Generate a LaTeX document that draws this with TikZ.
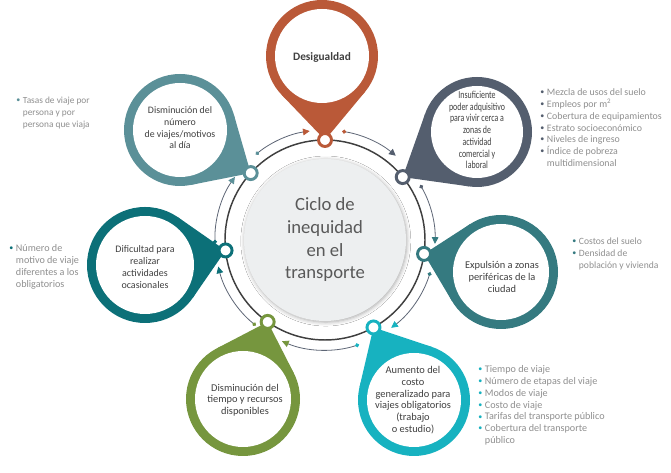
\documentclass[tikz,border=0pt]{standalone}
\usepackage{fontspec}
\setmainfont{Carlito}
\newfontfamily\narrowfont[FakeStretch=0.74]{Carlito}
\usetikzlibrary{arrows.meta,calc,shadows.blur}

\definecolor{cDesig}{HTML}{BA5938}
\definecolor{cInsuf}{HTML}{545E6E}
\definecolor{cExpul}{HTML}{357A80}
\definecolor{cAument}{HTML}{17B2C0}
\definecolor{cDismT}{HTML}{76963E}
\definecolor{cDific}{HTML}{0C7078}
\definecolor{cDismV}{HTML}{5B9098}
\definecolor{txtDark}{HTML}{404040}
\definecolor{txtMid}{HTML}{595959}
\definecolor{txtLight}{HTML}{8F8F8F}
\definecolor{lineSlate}{HTML}{5E6676}
\definecolor{ringGray}{HTML}{3F3F3F}
\definecolor{coreGray}{HTML}{EDEFF0}

\newcommand{\lb}[1]{\makebox[5pt][l]{\textcolor{#1}{\raisebox{0.2ex}{\fontsize{6}{6}\selectfont\textbullet}}}}
\newcommand{\lbin}{\hspace*{5pt}}

\begin{document}
\begin{tikzpicture}[x=0.75pt, y=0.75pt,
    pintext/.style={align=center, text=txtDark, font=\fontsize{7.8}{8.8}\selectfont, inner sep=0pt},
    listtext/.style={align=left, anchor=north west, text=txtLight, font=\fontsize{7.2}{8.85}\selectfont, inner sep=0pt},
    flowline/.style={draw=lineSlate, line width=0.6pt},
    ringline/.style={draw=ringGray, line width=1.1pt}]

    \path[use as bounding box, fill=white] (0,0) rectangle (671,473);
    \coordinate (O) at (325,233);

    % centre
    \node[circle, fill=coreGray, minimum size=121.5pt, inner sep=0pt,
          blur shadow={shadow xshift=0.6pt, shadow yshift=-0.8pt, shadow blur radius=3pt, shadow opacity=35},
          align=center, text=txtMid, font=\fontsize{14}{17}\selectfont] (ciclo) at (O)
          {Ciclo de\\inequidad\\en el\\transporte};
    \draw[ringline] (O) circle (100);

    % flow arrows around the ring
    \foreach \a/\b/\sc/\tc in {81/50/cDesig/cInsuf, 30/-2/cInsuf/cExpul, -17/-53/cExpul/cAument,
                               -72/-113/cAument/cDismT, -129/-166/cDismT/cDific,
                               -178/-215/cDific/cDismV, -231/-262/cDismV/cDesig}{
        \coordinate (from\a) at ($(O)+(\a:110)$);
        \draw[flowline, {Circle[color=\sc, length=3pt]}-{Triangle[color=\tc, length=5pt, width=5pt]}]
            (from\a) arc[start angle=\a, end angle=\b, radius=110];
    }

    % pins
    \foreach \nm/\col/\ang/\cx/\cy/\rr in {desig/cDesig/90/322/417/56, insuf/cInsuf/39/477/341/55,
                                          expul/cExpul/-8/501/201/57, aument/cAument/-61/414/73/56,
                                          dismt/cDismT/-125/243/74/57, dific/cDific/186/145/208/58,
                                          dismv/cDismV/138/180/343/56}{
        \pgfmathsetmacro{\tx}{325+100*cos(\ang)}
        \pgfmathsetmacro{\ty}{233+100*sin(\ang)}
        \pgfmathsetmacro{\dd}{veclen(\tx-\cx,\ty-\cy)}
        \pgfmathsetmacro{\ph}{atan2(\ty-\cy,\tx-\cx)}
        \pgfmathsetmacro{\al}{acos(\rr/\dd)}
        \coordinate (\nm-c) at (\cx,\cy);
        \coordinate (\nm-tip) at (\tx,\ty);
        \fill[\col] (\nm-c) circle (\rr);
        \fill[\col] ($(\nm-c)+(\ph+\al:\rr)$) -- (\nm-tip) -- ($(\nm-c)+(\ph-\al:\rr)$) -- cycle;
        \fill[white] (\nm-c) circle ({\rr-9});
        \draw[\col, line width=2.2pt, fill=white] (\nm-tip) circle (6.5);
    }

    % pin texts
    \node[pintext, font=\fontsize{8.5}{9}\selectfont\bfseries] (desig) at (322,416) {Desigualdad};
    \node[pintext, font=\fontsize{8}{8.8}\narrowfont] (insuf) at (477,343) {Insuficiente\\poder adquisitivo\\para vivir cerca a\\zonas de\\actividad\\comercial y\\laboral};
    \node[pintext] (expul) at (502,196) {Expulsión a zonas\\periféricas de la\\ciudad};
    \node[pintext] (aument) at (413,73) {Aumento del\\costo\\generalizado para\\viajes obligatorios\\(trabajo\\o estudio)};
    \node[pintext] (dismt) at (245,73) {Disminución del\\tiempo y recursos\\disponibles};
    \node[pintext, font=\fontsize{7.5}{8.8}\selectfont] (dific) at (145,206) {Dificultad para\\realizar\\actividades\\ocasionales};
    \node[pintext, font=\fontsize{7.4}{8.8}\selectfont] (dismv) at (180,345) {Disminución del\\número\\de viajes/motivos\\al día};

    % indicator lists
    \node[listtext, font=\fontsize{7.4}{8.85}\selectfont] (insuf-list) at (540,384.5) {\lb{cInsuf}Mezcla de usos del suelo\\
        \lb{cInsuf}Empleos por m\textsuperscript{2}\\
        \lb{cInsuf}Cobertura de equipamientos\\
        \lb{cInsuf}Estrato socioeconómico\\
        \lb{cInsuf}Niveles de ingreso\\
        \lb{cInsuf}Índice de pobreza\\
        \lbin multidimensional};
    \node[listtext, font=\fontsize{7}{8.85}\selectfont] (dismv-list) at (16,376) {\lb{cDismV}Tasas de viaje por\\
        \lbin persona y por\\
        \lbin persona que viaja};
    \node[listtext, font=\fontsize{7.6}{8.85}\selectfont] (dific-list) at (9,228.5) {\lb{cDific}Número de\\
        \lbin motivo de viaje\\
        \lbin diferentes a los\\
        \lbin obligatorios};
    \node[listtext] (expul-list) at (572,235.5) {\lb{cExpul}Costos del suelo\\
        \lb{cExpul}Densidad de\\
        \lbin población y vivienda};
    \node[listtext, font=\fontsize{7.6}{8.85}\selectfont] (aument-list) at (478,107.5) {\lb{cAument}Tiempo de viaje\\
        \lb{cAument}Número de etapas del viaje\\
        \lb{cAument}Modos de viaje\\
        \lb{cAument}Costo de viaje\\
        \lb{cAument}Tarifas del transporte público\\
        \lb{cAument}Cobertura del transporte\\
        \lbin público};
\end{tikzpicture}
\end{document}
